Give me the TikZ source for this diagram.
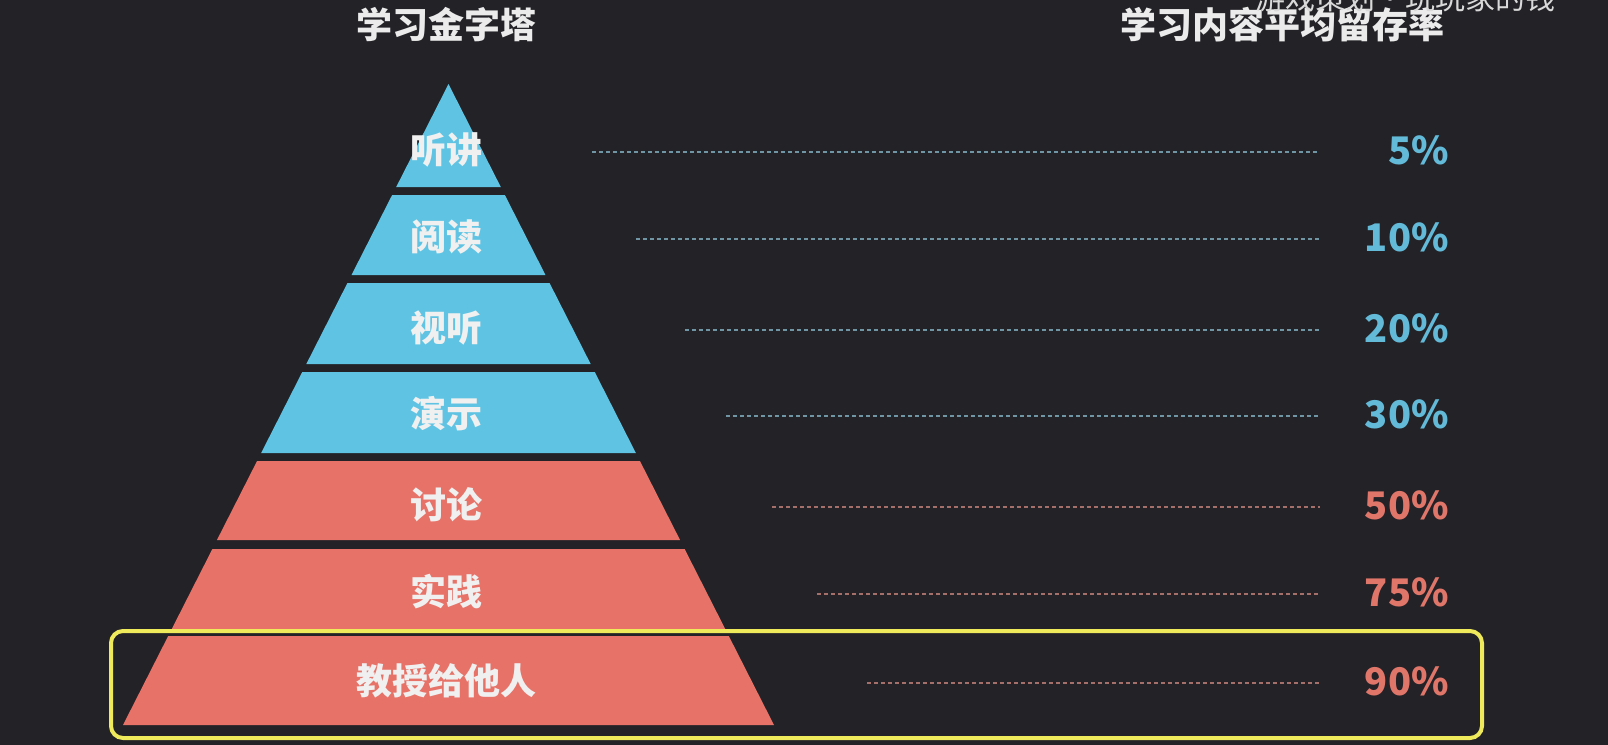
\documentclass[tikz,border=0pt]{standalone}
\usepackage{fontspec}
\newfontfamily\cjk{Noto Sans CJK SC}
\usetikzlibrary{positioning}
\definecolor{bg}{RGB}{35,34,39}
\definecolor{cool}{RGB}{95,196,228}
\definecolor{warm}{RGB}{231,114,104}
\definecolor{coolpct}{RGB}{98,186,216}
\definecolor{warmpct}{RGB}{224,118,106}
\definecolor{coolline}{RGB}{112,150,166}
\definecolor{warmline}{RGB}{165,112,106}
\definecolor{hilite}{RGB}{238,234,92}
\tikzset{
  hdr/.style={font=\cjk\bfseries\fontsize{18}{18}\selectfont, text=white!92!black},
  wmk/.style={font=\cjk\fontsize{15}{15}\selectfont, text=white!85!black},
  lvl/.style={font=\cjk\bfseries\fontsize{18}{18}\selectfont, text=white!94!black},
  pct/.style={font=\cjk\bfseries\fontsize{19}{19}\selectfont, anchor=east, inner sep=0pt},
  lead/.style={dash pattern=on 2pt off 1.5pt, line width=0.6pt},
  mark box/.style={draw=hilite, line width=2pt, rounded corners=6pt},
}

\begin{document}
\begin{tikzpicture}[x=0.5pt,y=-0.5pt]
\fill[bg] (0,0) rectangle (1608,745);
\useasboundingbox (0,0) rectangle (1608,745);

\node[hdr] (pyrtitle) at (446,25) {学习金字塔};
\node[hdr] (ratetitle) at (1282,25) {学习内容平均留存率};
\node[wmk] (wmark) at (1405,-2) {游戏策划·玩玩家的钱};

% pyramid layers, leader lines and rates
\foreach \n/\yt/\yb/\ly/\lab/\col/\xs/\pc in {
 a/84/187/150/听讲/cool/592/5\%,
 b/195/275/237/阅读/cool/636/10\%,
 c/283/364/328/视听/cool/685/20\%,
 d/372/453/414/演示/cool/726/30\%,
 e/461/540/505/讨论/warm/772/50\%,
 f/549/629/592/实践/warm/817/75\%,
 g/636/725/681/教授给他人/warm/867/90\%} {
  \pgfmathsetmacro\wt{(\yt-84)*0.5078}
  \pgfmathsetmacro\wb{(\yb-84)*0.5078}
  \fill[\col] ({448.5-\wt},\yt) -- ({448.5+\wt},\yt) -- ({448.5+\wb},\yb) -- ({448.5-\wb},\yb) -- cycle;
  \node[lvl] (lab\n) at (446,\ly) {\lab};
  \node[pct, text=\col pct] (pct\n) at (1449,\ly) {\pc};
  \coordinate (from\n) at (\xs,\ly+2);
  \coordinate (to\n) at (1320,\ly+2);
  \draw[lead, \col line] (from\n) -- (to\n);
}

\draw[mark box] (111,631) rectangle (1482,738);
\end{tikzpicture}
\end{document}
